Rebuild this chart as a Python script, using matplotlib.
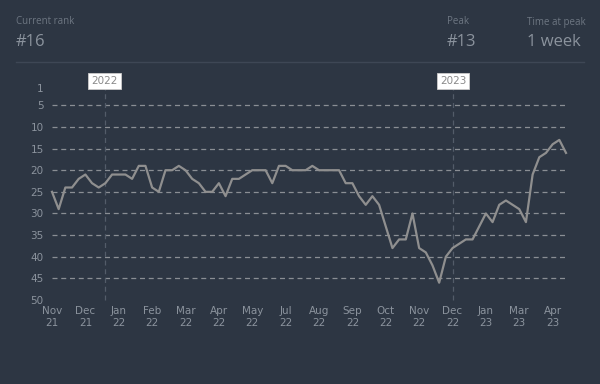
import numpy as np
import matplotlib
matplotlib.use("Agg")
from matplotlib import pyplot as plt

# weekly chart rank, Nov 2021 -> Apr 2023
ranks = [25, 29, 24, 24, 22, 21, 23, 24, 23, 21, 21, 21, 22, 19, 19, 24, 25, 20, 20, 19,
         20, 22, 23, 25, 25, 23, 26, 22, 22, 21, 20, 20, 20, 23, 19, 19, 20, 20,
         20, 19, 20, 20, 20, 20, 23, 23, 26, 28, 26, 28, 33, 38, 36, 36, 30, 38, 39, 42, 46,
         40, 38, 37, 36, 36, 33, 30, 32, 28, 27, 28, 29, 32, 21, 17, 16, 14, 13, 16]
tick_labels = ["Nov\n21", "Dec\n21", "Jan\n22", "Feb\n22", "Mar\n22", "Apr\n22", "May\n22",
               "Jul\n22", "Aug\n22", "Sep\n22", "Oct\n22", "Nov\n22", "Dec\n22", "Jan\n23",
               "Mar\n23", "Apr\n23"]
y_ticks = [1, 5, 10, 15, 20, 25, 30, 35, 40, 45, 50]
years = ["2022", "2023"]
year_pos = [7.9, 60.1]  # week index where the year starts

bg = "#2d3643"
txt_dim = "#6d7682"
txt = "#8b939d"

fig = plt.figure(figsize=(6, 3.84), dpi=100)
fig.patch.set_facecolor(bg)

# header
hf = ["Open Sans", "DejaVu Sans"]
fig.text(16/600, 1-22/384, "Current rank", color=txt_dim, fontsize=7, family=hf, va="center")
fig.text(16/600, 1-42/384, "#16", color=txt, fontsize=12, family=hf, va="center")
fig.text(447/600, 1-22/384, "Peak", color=txt_dim, fontsize=7, family=hf, va="center")
fig.text(447/600, 1-42/384, "#13", color=txt, fontsize=12, family=hf, va="center")
fig.text(527/600, 1-22/384, "Time at peak", color=txt_dim, fontsize=7, family=hf, va="center")
fig.text(527/600, 1-42/384, "1 week", color=txt, fontsize=12, family=hf, va="center")
fig.add_artist(plt.Line2D([16/600, 584/600], [1-62/384, 1-62/384], color="#3e4755", lw=1))

ax = fig.add_axes([52/600, 1-300/384, 514/600, 212/384])
ax.set_facecolor(bg)
x = np.arange(len(ranks))

for r in y_ticks[1:-1]:
    ax.axhline(r, color="#8a8e94", lw=0.9, ls=(0, (4, 3)), zorder=1)

for yr, p in zip(years, year_pos):
    ax.plot([p, p], [50, 0.5], color="#535c69", lw=0.9, ls=(0, (4, 3)), clip_on=False, zorder=1)
    ax.text(p, -0.7, yr, color="#8a8a8a", fontsize=7.5, ha="center", va="center",
            bbox=dict(facecolor="white", edgecolor="#cccccc", boxstyle="square,pad=0.3", lw=0.6),
            zorder=5, clip_on=False)

ax.plot(x, ranks, color="#8f8f8f", lw=1.6, zorder=3, clip_on=False)

ax.set_xlim(0, len(ranks) - 1)
ax.set_ylim(50, 1)
ax.set_yticks(y_ticks)
ax.set_xticks(np.arange(0, 5 * len(tick_labels), 5))
ax.set_xticklabels(tick_labels)
ax.tick_params(colors=txt, labelsize=7.5, length=0, pad=6)
ax.tick_params(axis="x", pad=4)
for lab in ax.get_xticklabels():
    lab.set_linespacing(1.3)
for s in ax.spines.values():
    s.set_visible(False)

fig.savefig("out.png", dpi=100, facecolor=bg)
